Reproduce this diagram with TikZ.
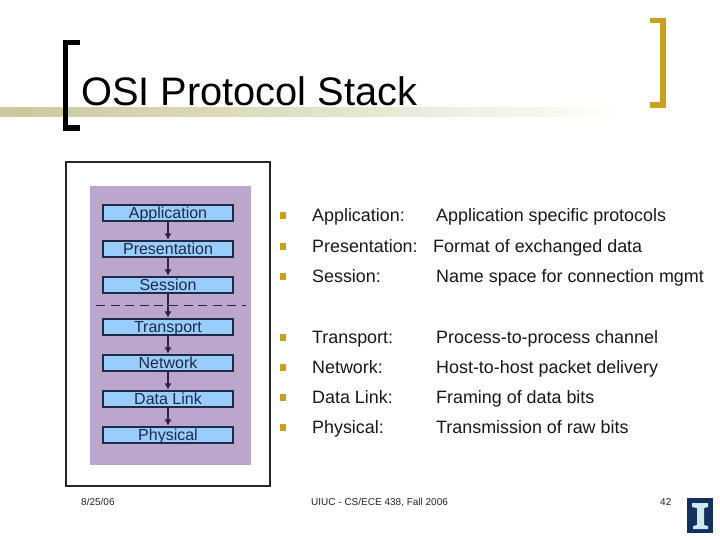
\documentclass[tikz,border=0pt]{standalone}
\usepackage{fontspec}
\setmainfont{Liberation Sans}
\usetikzlibrary{arrows.meta,shadings}
\definecolor{bandc}{HTML}{C9C99B}
\definecolor{goldc}{HTML}{C9A020}
\definecolor{purp}{HTML}{BBA7CC}
\definecolor{boxc}{HTML}{99CCFF}
\definecolor{navy}{HTML}{1F2A44}
\definecolor{arrc}{HTML}{2E2440}
\definecolor{logoc}{HTML}{14305F}
\definecolor{logoi}{HTML}{CFE8F0}
\tikzset{
 layer/.style={draw=navy,line width=2pt,fill=boxc,minimum width=130.5pt,minimum height=16.5pt,inner sep=0pt,text=navy,text height=12pt,text depth=1pt,font=\fontsize{16}{17}\selectfont},
 flow/.style={draw=arrc,line width=2.2pt,-{Latex[length=6.5pt,width=7.5pt]}},
 bul/.style={fill=goldc,minimum width=6pt,minimum height=7pt,inner sep=0pt},
 lab/.style={anchor=base west,inner sep=0pt,font=\fontsize{17.9}{20}\selectfont,text=black!90},
 foot/.style={anchor=base west,inner sep=0pt,font=\fontsize{10}{12}\selectfont,text=black!85}
}
\begin{document}
\begin{tikzpicture}[x=1pt,y=-1pt]
\useasboundingbox (0,0) rectangle (720,540);
\fill[white] (0,0) rectangle (720,540);
% title band
\shade[left color=bandc,right color=white,middle color=bandc!55] (0,108) rectangle (625,117);
% brackets
\draw[black,line width=5.5pt,line cap=butt] (80,42.5) -- (65.5,42.5) -- (65.5,128) -- (80,128);
\draw[goldc,line width=5.5pt,line cap=butt] (650,20.5) -- (663,20.5) -- (663,105) -- (650,105);
\node[anchor=base west,inner sep=0pt,font=\fontsize{39.8}{44}\selectfont,text=black] (title) at (81,106) {OSI Protocol Stack};
% frame
\node[draw=black!85,line width=1.8pt,fill=white,minimum width=204pt,minimum height=324pt,inner sep=0pt] (frame) at (168,324) {};
\node[fill=purp,minimum width=161pt,minimum height=279pt,inner sep=0pt] (panel) at (170.5,325.5) {};
% layers
\node[layer] (app) at (168,213) {Application};
\node[layer] (pre) at (168,249) {Presentation};
\node[layer] (ses) at (168,285) {Session};
\node[layer] (tra) at (168,327) {Transport};
\node[layer] (net) at (168,363) {Network};
\node[layer] (dat) at (168,399) {Data Link};
\node[layer] (phy) at (168,435) {Physical};
\draw[flow] (app) -- (pre);
\draw[flow] (pre) -- (ses);
\draw[flow] (ses) -- (tra);
\draw[flow] (tra) -- (net);
\draw[flow] (net) -- (dat);
\draw[flow] (dat) -- (phy);
\coordinate (dl) at (96,305.5);
\coordinate (dr) at (246,305.5);
\draw[arrc,line width=1.9pt,dash pattern=on 9pt off 5.6pt] (dl) -- (dr);
% list
\foreach \n/\y/\a/\b in {a/222/Application:/Application specific protocols,
 c/282/Session:/Name space for connection mgmt,
 d/343/Transport:/Process-to-process channel,
 e/373/Network:/Host-to-host packet delivery,
 f/403/Data Link:/Framing of data bits,
 g/433.5/Physical:/Transmission of raw bits}{
 \node[bul] (b\n) at (283,\y-6) {};
 \node[lab] (l\n) at (312,\y) {\a};
 \node[lab] (r\n) at (436,\y) {\b};
}
\node[bul] (bb) at (283,246) {};
\node[lab] (lb) at (312,252) {Presentation:};
\node[lab] (rb) at (433,252) {Format of exchanged data};
% footer
\node[foot] (date) at (81,505) {8/25/06};
\node[foot] (course) at (311,505) {UIUC - CS/ECE 438, Fall 2006};
\node[foot] (num) at (660,505) {42};
% logo
\fill[logoc] (687,498) rectangle (713,533);
\fill[logoi] (692,503) -- (708,503) -- (708,507) -- (704,508) -- (704,525) -- (708,526) -- (708,529) -- (693,529) -- (693,526) -- (697,525) -- (697,508) -- (692,507) -- cycle;
\end{tikzpicture}
\end{document}
